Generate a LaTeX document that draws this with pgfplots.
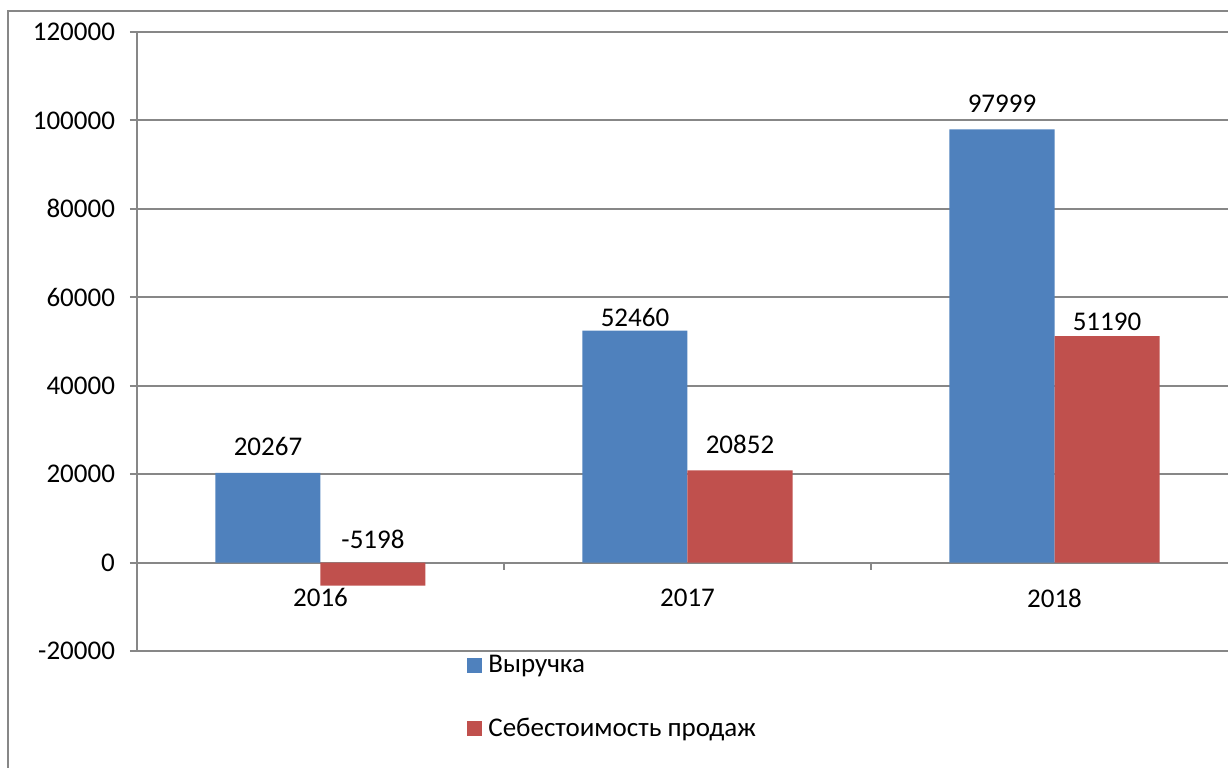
\documentclass[border=0pt]{standalone}
\usepackage{fontspec}
\setmainfont{Carlito}
\usepackage{pgfplots}
\pgfplotsset{compat=1.18}
\definecolor{exblue}{HTML}{4F81BD}
\definecolor{exred}{HTML}{C0504D}
\definecolor{exgrid}{HTML}{878787}
\begin{document}
\begin{tikzpicture}
\useasboundingbox (0,0) rectangle (614pt,-383.5pt);
\clip (0,0) rectangle (614pt,-383.5pt);
\draw[exgrid, line width=1pt] (4pt,-5.5pt) rectangle (700pt,-500pt);
\begin{axis}[
  at={(68.5pt,-325.5pt)}, anchor=south west,
  scale only axis, width=550.5pt, height=309.5pt,
  ybar=0pt, bar width=52.5pt,
  xmin=-0.5, xmax=2.5, ymin=-20000, ymax=120000,
  ytick={-20000,0,20000,40000,60000,80000,100000,120000},
  yticklabels={-20000,0,20000,40000,60000,80000,100000,120000},
  xtick={-0.5,0.5,1.5,2.5}, x tick label as interval,
  xticklabels={2016,2017,2018},
  hide obscured x ticks=false,
  axis x line=middle, axis y line=left,
  axis line style={-, draw=exgrid, line width=1pt},
  tick align=outside, major tick length=3.5pt,
  tick style={draw=exgrid, line width=1pt},
  ymajorgrids, grid style={draw=exgrid, line width=1pt},
  scaled y ticks=false,
  tick label style={font=\fontsize{13.5}{16}\selectfont, black},
  yticklabel style={xshift=-4pt},
  xticklabel style={yshift=-6pt},
  point meta=explicit symbolic,
  nodes near coords={\pgfplotspointmeta},
  every node near coord/.append style={font=\fontsize{13.5}{16}\selectfont, black, yshift=5pt},
  legend style={at={(0.2997,0)}, anchor=north west, draw=none, fill=none,
    row sep=17pt, font=\fontsize{13.5}{16}\selectfont, inner sep=0pt},
  legend cell align=left,
  legend image code/.code={\fill[#1] (0pt,-3.75pt) rectangle (7.5pt,3.75pt); \path (8.5pt,0pt);},
]
\addplot[fill=exblue, draw=none, coordinate style/.condition={x==1}{yshift=-6.5pt}] coordinates {(0,20267)[20267] (1,52460)[52460] (2,97999)[97999]};
\addplot[fill=exred, draw=none, coordinate style/.condition={y<0}{anchor=south, yshift=10pt}, coordinate style/.condition={x==2}{yshift=-6pt}] coordinates {(0,-5198)[-5198] (1,20852)[20852] (2,51190)[51190]};
\legend{Выручка, Себестоимость продаж}
\end{axis}
\end{tikzpicture}
\end{document}
